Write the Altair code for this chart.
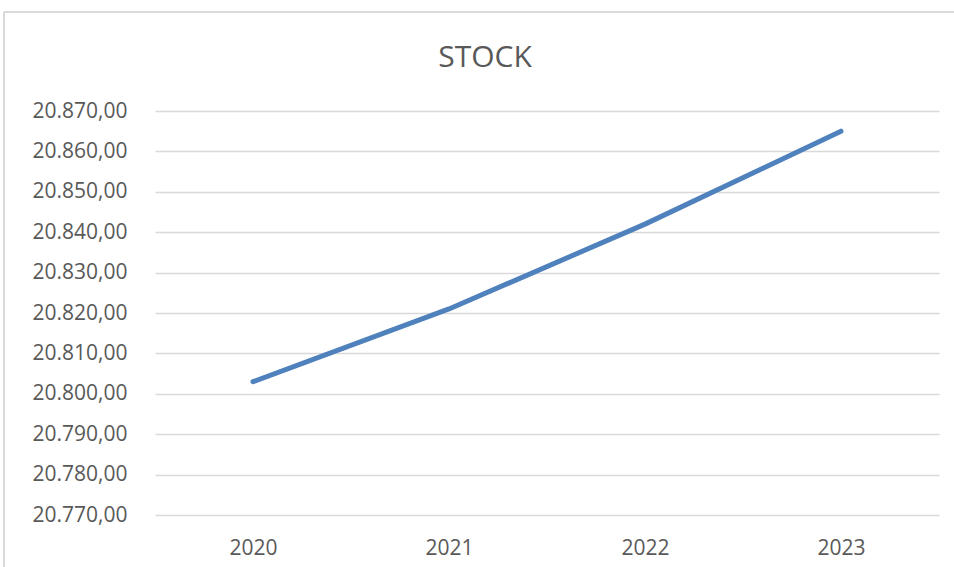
import altair as alt
import pandas as pd

years = ["2020", "2021", "2022", "2023"]
stock = [20803, 20821, 20842, 20865]
y_ticks = [20770, 20780, 20790, 20800, 20810, 20820, 20830, 20840, 20850, 20860, 20870]

df = pd.DataFrame({"year": years, "stock": stock})

FONT = "Open Sans"
TXT = "#595959"
GRID = "#d9d9d9"

label_expr = "replace(replace(replace(format(datum.value, ',.2f'), ',', '#'), '.', ','), '#', '.')"

line = alt.Chart(df).mark_line(color="#4f81bd", strokeWidth=5, strokeCap="round", strokeJoin="round").encode(
    x=alt.X("year:O", sort=years,
            scale=alt.Scale(type="point", padding=0.5),
            axis=alt.Axis(title=None, labelAngle=0, ticks=False, tickSize=0, domain=False, grid=False,
                          labelFont=FONT, labelFontSize=21, labelColor=TXT,
                          labelBaseline="alphabetic", labelPadding=39)),
    y=alt.Y("stock:Q",
            scale=alt.Scale(domain=[20770, 20870], nice=False, zero=False),
            axis=alt.Axis(title=None, values=y_ticks, labelExpr=label_expr, ticks=False, tickSize=0,
                          domain=False, grid=True, gridColor=GRID, gridWidth=1.5,
                          labelFont=FONT, labelFontSize=21, labelColor=TXT, labelPadding=28)),
)

border_left = alt.Chart(df).mark_rule(color=GRID, strokeWidth=1.5).encode(
    x=alt.value(-151), y=alt.value(-99), y2=alt.value(460)
)
border_top = alt.Chart(df).mark_rule(color=GRID, strokeWidth=1.5).encode(
    x=alt.value(-151), x2=alt.value(805), y=alt.value(-99)
)

chart = alt.layer(border_left, border_top, line).properties(
    width=784,
    height=404,
    background="white",
    title=alt.TitleParams("STOCK", font=FONT, fontSize=30, fontWeight="normal", color=TXT,
                          anchor="middle", baseline="alphabetic", offset=-86, dx=-62),
    autosize=alt.AutoSizeParams(type="none"),
    padding={"left": 155, "top": 111, "right": 15, "bottom": 52},
).configure_view(stroke=None, strokeWidth=0)

chart.save("out.html", embed_options={"renderer": "svg", "actions": False})
